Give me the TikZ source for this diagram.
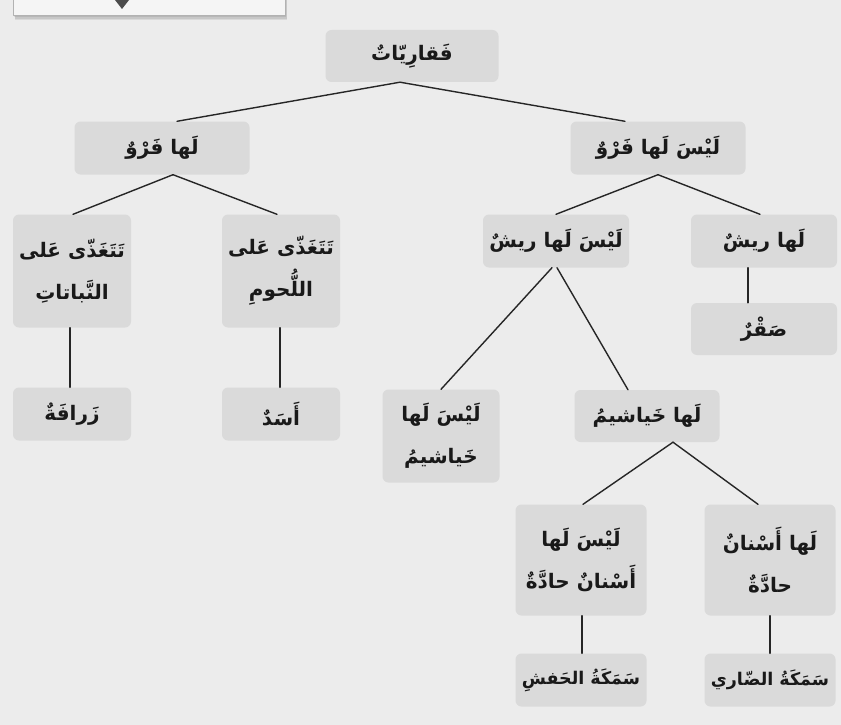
\documentclass[tikz,border=0pt]{standalone}
\usepackage{fontspec}
\newfontfamily\arabicfont[Script=Arabic]{DejaVu Sans}
\TeXXeTstate=1
\usetikzlibrary{calc}
\definecolor{bggray}{HTML}{ECECEC}
\definecolor{boxgray}{HTML}{DADADA}
\newcommand{\arline}[1]{\beginR#1\endR}
\tikzset{
    box/.style={fill=boxgray, rounded corners=6pt, inner sep=0pt, align=center,
        font=\arabicfont\bfseries\fontsize{20}{42}\selectfont, text=black!90},
    smallbox/.style={box, font=\arabicfont\bfseries\fontsize{17.5}{42}\selectfont},
    link/.style={line width=1.4pt, black!85}
}

\begin{document}
\begin{tikzpicture}[x=1pt, y=-1pt, line cap=round, line join=round]
            \fill[bggray] (0,0) rectangle (841,725);
            \useasboundingbox (0,0) rectangle (841,725);

            % cut-off panel at the top
            \foreach \s in {1,2,3,4}
                \fill[black, opacity=0.08] (13+\s*0.5,-5) rectangle (285+\s*0.5,15+\s*1.2);
            \fill[gray!8] (13,-5) rectangle (285,15);
            \draw[gray!60, line width=0.4pt] (13,-5) -- (13,15) -- (285,15) -- (285,-5);
            \fill[black!70] (115,0) -- (129,0) -- (122,9) -- cycle;

            \node[box, minimum width=173, minimum height=52] (Vert) at (412,56) {\arline{فَقارِيّاتٌ}};

            \node[box, minimum width=175, minimum height=53] (Fur) at (162,148) {\arline{لَها فَرْوٌ}};
            \node[box, minimum width=175, minimum height=53] (NoFur) at (658,148) {\arline{لَيْسَ لَها فَرْوٌ}};

            \node[box, minimum width=118, minimum height=113] (Plants) at (72,271) {\arline{تَتَغَذّى عَلى}\\\arline{النَّباتاتِ}};
            \node[box, minimum width=118, minimum height=113] (Meat) at (281,271) {\arline{تَتَغَذّى عَلى}\\\arline{اللُّحومِ}};
            \node[box, minimum width=118, minimum height=53] (Giraffe) at (72,414) {\arline{زَرافَةٌ}};
            \node[box, minimum width=118, minimum height=53] (Lion) at (281,414) {\arline{أَسَدٌ}};

            \node[box, minimum width=146, minimum height=53] (NoFeather) at (556,241) {\arline{لَيْسَ لَها ريشٌ}};
            \node[box, minimum width=146, minimum height=53] (Feather) at (764,241) {\arline{لَها ريشٌ}};
            \node[box, minimum width=146, minimum height=52] (Falcon) at (764,329) {\arline{صَقْرٌ}};

            \node[box, minimum width=117, minimum height=93] (NoGills) at (441,436) {\arline{لَيْسَ لَها}\\\arline{خَياشيمُ}};
            \node[box, minimum width=145, minimum height=52] (Gills) at (647,416) {\arline{لَها خَياشيمُ}};

            \node[box, minimum width=131, minimum height=111] (NoTeeth) at (581,560) {\arline{لَيْسَ لَها}\\\arline{أَسْنانٌ حادَّةٌ}};
            \node[box, minimum width=131, minimum height=111] (Teeth) at (770,560) {\arline{لَها أَسْنانٌ}\\\arline{حادَّةٌ}};
            \node[smallbox, minimum width=131, minimum height=53] (Sturgeon) at (581,680) {\arline{سَمَكَةُ الحَفشِ}};
            \node[smallbox, minimum width=131, minimum height=53] (Piranha) at (770,680) {\arline{سَمَكَةُ الضّاري}};

            \draw[link] ([xshift=-12]Vert.south) -- ([xshift=15]Fur.north);
            \draw[link] ([xshift=-12]Vert.south) -- ([xshift=-33]NoFur.north);

            \draw[link] ([xshift=11]Fur.south) -- ([xshift=1]Plants.north);
            \draw[link] ([xshift=11]Fur.south) -- ([xshift=-4]Meat.north);
            \draw[link] ([xshift=-2]Plants.south) -- ([xshift=-2]Giraffe.north);
            \draw[link] ([xshift=-1]Meat.south) -- ([xshift=-1]Lion.north);

            \draw[link] (NoFur.south) -- (NoFeather.north);
            \draw[link] (NoFur.south) -- ([xshift=-4]Feather.north);
            \draw[link] ([xshift=-16]Feather.south) -- ([xshift=-16]Falcon.north);

            \draw[link] ([xshift=-4]NoFeather.south) -- (NoGills.north);
            \draw[link] ([xshift=1]NoFeather.south) -- ([xshift=-19]Gills.north);

            \draw[link] ([xshift=26]Gills.south) -- ([xshift=2]NoTeeth.north);
            \draw[link] ([xshift=26]Gills.south) -- ([xshift=-12]Teeth.north);
            \draw[link] ([xshift=1]NoTeeth.south) -- ([xshift=1]Sturgeon.north);
            \draw[link] (Teeth.south) -- (Piranha.north);

        \end{tikzpicture}
\end{document}
